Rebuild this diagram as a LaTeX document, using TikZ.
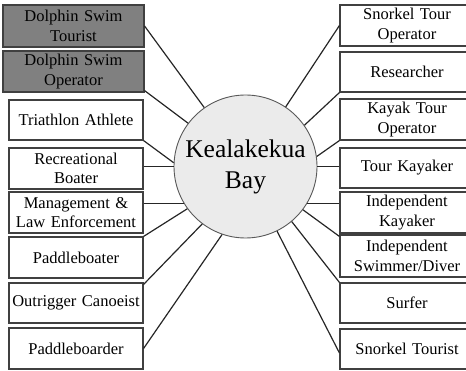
\documentclass[tikz,border=0pt]{standalone}
\usepackage{fontspec}
\setmainfont{Liberation Serif}
\begin{document}
\begin{tikzpicture}[x=1pt,y=-1pt,
  stake/.style={draw=black!75, line width=1.1pt, fill=white, inner sep=0pt,
    minimum width=134pt, text width=130pt, align=center,
    font=\fontsize{16.5}{19.5}\selectfont},
  dolphin/.style={stake, fill=black!50, minimum width=141pt},
  link/.style={draw=black!85, line width=1.2pt},
  bay/.style={circle, draw=black!65, line width=0.9pt, fill=black!8, minimum size=143pt, inner sep=0pt,
    align=center, font=\fontsize{25.5}{31}\selectfont}]
\useasboundingbox (0,0) rectangle (466,371);
% centre
\node[bay] (c) at (245.5,166.5) {Kealakekua\\Bay};
% left boxes
\node[dolphin, minimum height=42pt] (dt) at (73.5,26) {Dolphin Swim\\Tourist};
\node[dolphin, minimum height=41pt] (do) at (73.5,71.5) {Dolphin Swim\\Operator};
\node[stake, minimum height=40pt] (ta) at (76,120) {Triathlon Athlete};
\node[stake, minimum height=41pt] (rb) at (76,168.5) {Recreational\\Boater};
\node[stake, minimum height=41pt] (mg) at (76,212.5) {Management \&\\Law Enforcement};
\node[stake, minimum height=41pt] (pb) at (76,257.5) {Paddleboater};
\node[stake, minimum height=40pt] (oc) at (76,303) {Outrigger Canoeist};
\node[stake, minimum height=41pt] (pd) at (76,348.5) {Paddleboarder};
% right boxes
\node[stake, minimum height=41pt] (sto) at (407,25.5) {Snorkel Tour\\Operator};
\node[stake, minimum height=40pt] (re) at (407,72) {Researcher};
\node[stake, minimum height=41pt] (kto) at (407,119.5) {Kayak Tour\\Operator};
\node[stake, minimum height=40pt] (tk) at (407,168) {Tour Kayaker};
\node[stake, minimum height=41pt] (ik) at (407,212.5) {Independent\\Kayaker};
\node[stake, minimum height=42pt] (is) at (407,256) {Independent\\Swimmer/Diver};
\node[stake, minimum height=40pt] (su) at (407,303) {Surfer};
\node[stake, minimum height=40pt] (st) at (407,349) {Snorkel Tourist};
% connectors left
\draw[link] (dt.east) -- (c.125.5);
\draw[link] ([yshift=2pt]do.south east) -- (c.143.5);
\draw[link] (ta.south east) -- (c.177);
\draw[link] (c.180 -| rb.east) -- (c.180);
\draw[link] (c.211.6 -| mg.east) -- (c.211.6);
\draw[link] (pb.north east) -- (c.216);
\draw[link] ([yshift=-2pt]oc.north east) -- (c.233.4);
\draw[link] (pd.east) -- (c.251.8);
% connectors right
\draw[link] (sto.west) -- (c.56.6);
\draw[link] (re.south west) -- (c.35.7);
\draw[link] (kto.south west) -- (c.8.1);
\draw[link] (c.0 -| tk.west) -- (c.0);
\draw[link] (c.-31.6 -| ik.west) -- (c.-31.6);
\draw[link] ([yshift=-2pt]is.north west) -- (c.-37.4);
\draw[link] (su.north west) -- (c.-50);
\draw[link] ([yshift=-4pt]st.west) -- (c.-64);
\end{tikzpicture}
\end{document}
